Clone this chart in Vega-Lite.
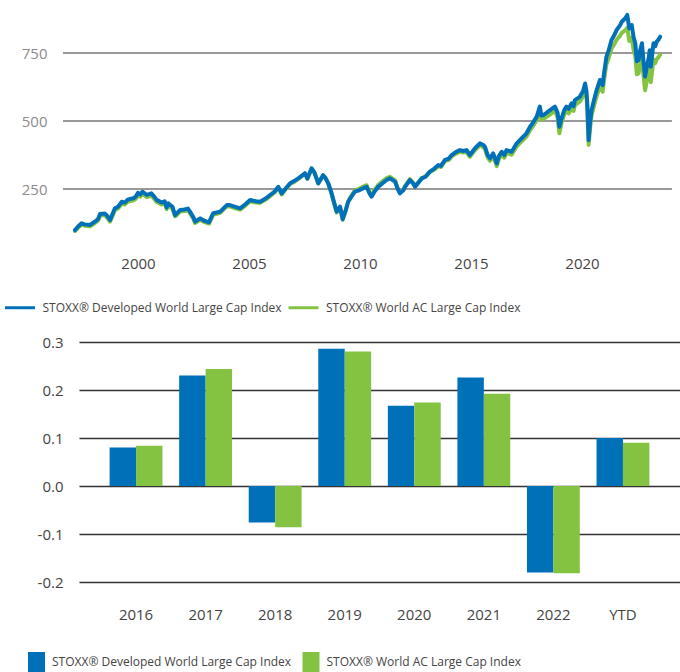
{
  "$schema": "https://vega.github.io/schema/vega-lite/v6.json",
  "padding": 0,
  "spacing": 64,
  "datasets": {
    "grid": [{"g": 250}, {"g": 500}, {"g": 750}],
    "lines": [
      {"t":1997.16,"dev":99,"ac":95},{"t":1997.3,"dev":112,"ac":107},{"t":1997.46,"dev":124,"ac":119},{"t":1997.6,"dev":120,"ac":115},{"t":1997.84,"dev":118,"ac":113},
      {"t":1998.06,"dev":130,"ac":125},{"t":1998.2,"dev":140,"ac":134},{"t":1998.29,"dev":158,"ac":152},{"t":1998.51,"dev":160,"ac":154},{"t":1998.62,"dev":150,"ac":144},{"t":1998.74,"dev":136,"ac":130},{"t":1998.96,"dev":179,"ac":172},
      {"t":1999.1,"dev":185,"ac":178},{"t":1999.27,"dev":203,"ac":196},{"t":1999.4,"dev":200,"ac":193},{"t":1999.56,"dev":212,"ac":204},{"t":1999.79,"dev":216,"ac":208},{"t":1999.9,"dev":222,"ac":214},
      {"t":2000.0,"dev":236,"ac":228},{"t":2000.1,"dev":230,"ac":222},{"t":2000.2,"dev":240,"ac":232},{"t":2000.4,"dev":228,"ac":220},{"t":2000.6,"dev":234,"ac":226},{"t":2000.7,"dev":225,"ac":217},{"t":2000.84,"dev":210,"ac":202},
      {"t":2001.07,"dev":200,"ac":193},{"t":2001.2,"dev":205,"ac":198},{"t":2001.29,"dev":182,"ac":176},{"t":2001.37,"dev":197,"ac":190},{"t":2001.55,"dev":185,"ac":178},{"t":2001.67,"dev":154,"ac":149},{"t":2001.9,"dev":173,"ac":167},
      {"t":2002.1,"dev":175,"ac":169},{"t":2002.25,"dev":178,"ac":172},{"t":2002.34,"dev":167,"ac":161},{"t":2002.5,"dev":145,"ac":140},{"t":2002.57,"dev":130,"ac":125},{"t":2002.8,"dev":142,"ac":137},{"t":2002.95,"dev":135,"ac":130},
      {"t":2003.1,"dev":130,"ac":125},{"t":2003.2,"dev":128,"ac":123},{"t":2003.39,"dev":161,"ac":156},{"t":2003.7,"dev":167,"ac":162},
      {"t":2004.0,"dev":191,"ac":186},{"t":2004.14,"dev":191,"ac":186},{"t":2004.35,"dev":185,"ac":180},{"t":2004.6,"dev":179,"ac":174},{"t":2004.85,"dev":195,"ac":190},
      {"t":2005.05,"dev":210,"ac":205},{"t":2005.3,"dev":205,"ac":200},{"t":2005.5,"dev":203,"ac":199},{"t":2005.75,"dev":215,"ac":211},{"t":2005.95,"dev":228,"ac":224},
      {"t":2006.15,"dev":240,"ac":237},{"t":2006.32,"dev":258,"ac":255},{"t":2006.47,"dev":234,"ac":230},{"t":2006.65,"dev":252,"ac":249},{"t":2006.85,"dev":271,"ac":268},
      {"t":2007.05,"dev":280,"ac":277},{"t":2007.22,"dev":289,"ac":287},{"t":2007.4,"dev":300,"ac":298},{"t":2007.52,"dev":308,"ac":306},{"t":2007.63,"dev":289,"ac":287},{"t":2007.82,"dev":326,"ac":325},{"t":2007.95,"dev":310,"ac":309},
      {"t":2008.12,"dev":271,"ac":270},{"t":2008.34,"dev":301,"ac":300},{"t":2008.45,"dev":290,"ac":289},{"t":2008.57,"dev":271,"ac":270},{"t":2008.7,"dev":240,"ac":238},{"t":2008.8,"dev":210,"ac":207},{"t":2008.95,"dev":167,"ac":164},
      {"t":2009.1,"dev":185,"ac":183},{"t":2009.22,"dev":139,"ac":137},{"t":2009.35,"dev":170,"ac":170},{"t":2009.47,"dev":203,"ac":205},{"t":2009.6,"dev":220,"ac":224},{"t":2009.77,"dev":240,"ac":245},{"t":2009.95,"dev":245,"ac":251},
      {"t":2010.15,"dev":253,"ac":259},{"t":2010.3,"dev":258,"ac":264},{"t":2010.42,"dev":235,"ac":240},{"t":2010.52,"dev":222,"ac":227},{"t":2010.65,"dev":240,"ac":246},{"t":2010.82,"dev":258,"ac":265},
      {"t":2011.0,"dev":270,"ac":277},{"t":2011.2,"dev":283,"ac":290},{"t":2011.35,"dev":289,"ac":295},{"t":2011.58,"dev":277,"ac":282},{"t":2011.7,"dev":250,"ac":252},{"t":2011.8,"dev":234,"ac":236},{"t":2011.95,"dev":245,"ac":248},
      {"t":2012.03,"dev":258,"ac":261},{"t":2012.25,"dev":283,"ac":286},{"t":2012.4,"dev":270,"ac":272},{"t":2012.48,"dev":258,"ac":260},{"t":2012.6,"dev":270,"ac":272},{"t":2012.78,"dev":289,"ac":290},{"t":2012.95,"dev":295,"ac":296},
      {"t":2013.15,"dev":314,"ac":313},{"t":2013.35,"dev":325,"ac":322},{"t":2013.53,"dev":338,"ac":334},{"t":2013.65,"dev":335,"ac":331},{"t":2013.83,"dev":357,"ac":353},
      {"t":2014.0,"dev":362,"ac":357},{"t":2014.13,"dev":375,"ac":370},{"t":2014.3,"dev":385,"ac":379},{"t":2014.5,"dev":393,"ac":387},{"t":2014.65,"dev":390,"ac":384},{"t":2014.8,"dev":393,"ac":386},{"t":2014.95,"dev":375,"ac":368},
      {"t":2015.18,"dev":400,"ac":393},{"t":2015.4,"dev":418,"ac":411},{"t":2015.55,"dev":412,"ac":404},{"t":2015.63,"dev":405,"ac":397},{"t":2015.75,"dev":375,"ac":366},{"t":2015.86,"dev":363,"ac":354},
      {"t":2016.0,"dev":381,"ac":372},{"t":2016.16,"dev":344,"ac":334},{"t":2016.25,"dev":370,"ac":360},{"t":2016.38,"dev":387,"ac":377},{"t":2016.5,"dev":375,"ac":365},{"t":2016.6,"dev":393,"ac":383},{"t":2016.83,"dev":387,"ac":376},
      {"t":2017.06,"dev":418,"ac":407},{"t":2017.2,"dev":430,"ac":419},{"t":2017.35,"dev":442,"ac":431},{"t":2017.5,"dev":455,"ac":443},{"t":2017.66,"dev":479,"ac":467},{"t":2017.8,"dev":495,"ac":482},{"t":2017.96,"dev":516,"ac":503},
      {"t":2018.1,"dev":553,"ac":539},{"t":2018.17,"dev":520,"ac":506},{"t":2018.26,"dev":522,"ac":507},{"t":2018.4,"dev":530,"ac":515},{"t":2018.56,"dev":540,"ac":524},{"t":2018.78,"dev":553,"ac":537},{"t":2018.9,"dev":530,"ac":514},{"t":2018.98,"dev":479,"ac":455},
      {"t":2019.08,"dev":510,"ac":494},{"t":2019.2,"dev":540,"ac":524},{"t":2019.3,"dev":553,"ac":537},{"t":2019.4,"dev":545,"ac":528},{"t":2019.53,"dev":565,"ac":548},{"t":2019.62,"dev":555,"ac":537},{"t":2019.68,"dev":577,"ac":559},{"t":2019.9,"dev":589,"ac":571},
      {"t":2020.05,"dev":610,"ac":591},{"t":2020.14,"dev":638,"ac":619},{"t":2020.2,"dev":610,"ac":591},{"t":2020.24,"dev":560,"ac":542},{"t":2020.3,"dev":430,"ac":412},{"t":2020.36,"dev":490,"ac":471},{"t":2020.43,"dev":540,"ac":520},{"t":2020.55,"dev":580,"ac":559},{"t":2020.66,"dev":614,"ac":592},{"t":2020.81,"dev":651,"ac":628},{"t":2020.93,"dev":632,"ac":608},
      {"t":2021.0,"dev":680,"ac":655},{"t":2021.1,"dev":736,"ac":709},{"t":2021.2,"dev":760,"ac":731},{"t":2021.33,"dev":798,"ac":767},{"t":2021.45,"dev":815,"ac":782},{"t":2021.56,"dev":835,"ac":799},{"t":2021.7,"dev":850,"ac":812},{"t":2021.79,"dev":865,"ac":824},{"t":2021.94,"dev":877,"ac":833},
      {"t":2022.04,"dev":890,"ac":843},{"t":2022.13,"dev":840,"ac":794},{"t":2022.24,"dev":853,"ac":806},{"t":2022.32,"dev":810,"ac":763},{"t":2022.4,"dev":786,"ac":738},{"t":2022.47,"dev":720,"ac":672},{"t":2022.55,"dev":724,"ac":675},{"t":2022.62,"dev":760,"ac":710},{"t":2022.7,"dev":786,"ac":735},{"t":2022.77,"dev":720,"ac":669},{"t":2022.84,"dev":663,"ac":613},{"t":2022.92,"dev":700,"ac":648},
      {"t":2023.0,"dev":730,"ac":675},{"t":2023.05,"dev":760,"ac":704},{"t":2023.1,"dev":700,"ac":643},{"t":2023.22,"dev":786,"ac":725},{"t":2023.3,"dev":775,"ac":713},{"t":2023.36,"dev":791,"ac":727},{"t":2023.45,"dev":800,"ac":735},{"t":2023.52,"dev":810,"ac":743}
    ],
    "bars": [
      {"year":"2016","series":"Developed","r":0.080},{"year":"2016","series":"AC","r":0.084},
      {"year":"2017","series":"Developed","r":0.230},{"year":"2017","series":"AC","r":0.244},
      {"year":"2018","series":"Developed","r":-0.076},{"year":"2018","series":"AC","r":-0.086},
      {"year":"2019","series":"Developed","r":0.286},{"year":"2019","series":"AC","r":0.280},
      {"year":"2020","series":"Developed","r":0.167},{"year":"2020","series":"AC","r":0.174},
      {"year":"2021","series":"Developed","r":0.226},{"year":"2021","series":"AC","r":0.192},
      {"year":"2022","series":"Developed","r":-0.180},{"year":"2022","series":"AC","r":-0.182},
      {"year":"YTD","series":"Developed","r":0.100},{"year":"YTD","series":"AC","r":0.090}
    ]
  },
  "vconcat": [
    {
      "width": 593,
      "height": 257,
      "layer": [
        {
          "data": {"name": "grid"},
          "mark": {"type": "rule", "color": "#777777", "strokeWidth": 1.6},
          "encoding": {
            "x": {"datum": 1996.62, "type": "quantitative",
                  "scale": {"domain": [1997.342, 2024.054], "nice": false, "zero": false},
                  "axis": {"values": [2000, 2005, 2010, 2015, 2020], "format": "d", "labelPadding": -1, "grid": false, "title": null}},
            "x2": {"datum": 2024.05},
            "y": {"field": "g", "type": "quantitative",
                  "scale": {"domain": [0, 945], "nice": false},
                  "axis": {"values": [250, 500, 750], "grid": false, "labelColor": "#8c8c8c", "labelPadding": 32, "title": null}}
          }
        },
        {
          "data": {"name": "lines"},
          "transform": [{"fold": ["ac", "dev"], "as": ["idx", "val"]}],
          "mark": {"type": "line", "strokeWidth": 4, "strokeJoin": "round", "strokeCap": "round"},
          "encoding": {
            "x": {"field": "t", "type": "quantitative",
                  "scale": {"domain": [1997.342, 2024.054], "nice": false, "zero": false},
                  "axis": {"values": [2000, 2005, 2010, 2015, 2020], "format": "d", "labelPadding": -1, "grid": false, "title": null}},
            "y": {"field": "val", "type": "quantitative",
                  "scale": {"domain": [0, 945], "nice": false},
                  "axis": {"values": [250, 500, 750], "grid": false, "labelColor": "#8c8c8c", "labelPadding": 32, "title": null}},
            "stroke": {
              "field": "idx", "type": "nominal",
              "scale": {"domain": ["dev", "ac"], "range": ["#0071B9", "#84C342"]},
              "legend": {
                "orient": "none", "legendX": -75.5, "legendY": 291, "direction": "horizontal", "title": null,
                "symbolType": "stroke", "symbolSize": 900, "symbolStrokeWidth": 3, "labelOffset": 6, "columnPadding": -0.5, "padding": 0, "labelLimit": 500,
                "labelExpr": "datum.value === 'dev' ? 'STOXX® Developed World Large Cap Index' : 'STOXX® World AC Large Cap Index'"
              }
            }
          }
        }
      ]
    },
    {
      "width": 601,
      "height": 240,
      "data": {"name": "bars"},
      "mark": {"type": "bar"},
      "encoding": {
        "x": {
          "field": "year", "type": "nominal", "sort": null,
          "scale": {"paddingInner": 0.24, "paddingOuter": 0.44},
          "axis": {"labelAngle": 0, "labelPadding": 25, "title": null}
        },
        "xOffset": {"field": "series", "type": "nominal", "scale": {"domain": ["Developed", "AC"]}},
        "y": {
          "field": "r", "type": "quantitative",
          "scale": {"domain": [-0.2, 0.3], "nice": false},
          "axis": {"values": [-0.2, -0.1, 0, 0.1, 0.2, 0.3], "grid": true, "gridColor": "#333333", "gridWidth": 1.5, "labelPadding": 16, "minExtent": 79, "title": null,
                   "labelExpr": "replace(format(datum.value, '.1f'), '−', '-')"}
        },
        "fill": {
          "field": "series", "type": "nominal",
          "scale": {"domain": ["Developed", "AC"], "range": ["#0071B9", "#84C342"]},
          "legend": {
            "orient": "none", "legendX": -52.5, "legendY": 652, "direction": "horizontal", "title": null,
            "symbolType": "M-0.85,-1H0.85V1H-0.85Z", "symbolSize": 400, "symbolStrokeWidth": 0, "labelOffset": 5.5, "columnPadding": 9.5, "padding": 0, "labelLimit": 500,
            "labelExpr": "datum.value === 'Developed' ? 'STOXX® Developed World Large Cap Index' : 'STOXX® World AC Large Cap Index'"
          }
        }
      }
    }
  ],
  "config": {
    "view": {"stroke": null},
    "font": "Open Sans",
    "axis": {"domain": false, "ticks": false, "labelFont": "Open Sans", "labelFontSize": 15, "labelColor": "#444444"},
    "legend": {"labelFont": "Open Sans", "labelFontSize": 12, "labelColor": "#444444"}
  }
}
